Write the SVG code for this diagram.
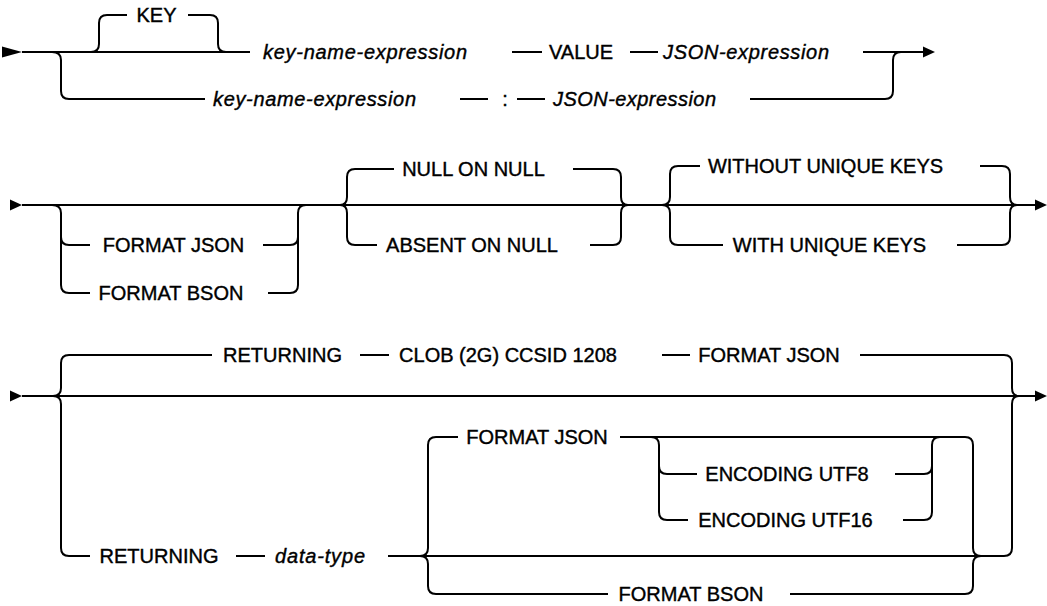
<svg xmlns="http://www.w3.org/2000/svg" width="1047" height="606" viewBox="0 0 1047 606">
<style>
.c{fill:none;stroke:#000;stroke-width:2}
.t{font-family:"Liberation Sans",Arial,sans-serif;font-size:20px;fill:#000;stroke:#000;stroke-width:0.4;text-anchor:middle}
.i{font-style:italic;text-anchor:start}
.a{fill:#000}
</style>
<rect width="1047" height="606" fill="#fff"/>
<g id="connectors">
<path class="c" d="M22 52 H250 M512 52 H542 M630 52 H658 M863 52 H923"/>
<path class="c" d="M52 52 Q61 52 61 60 V91 Q61 99 69 99 H205 M460 99 H488 M517 99 H545 M750 99 H885 Q893 99 893 91 V60 Q893 52 901 52"/>
<path class="c" d="M91 52 Q99 52 99 44 V23 Q99 15 107 15 H127 M188 15 H210 Q218 15 218 23 V44 Q218 52 226 52"/>
<polygon class="a" points="2,46.5 22,52 2,57.5"/>
<polygon class="a" points="923,46.5 935,52 923,57.5"/>
<path class="c" d="M22 205 H1035"/>
<path class="c" d="M52 205 Q61 205 61 213 V285 Q61 293 69 293 H90 M61 237 Q61 245 69 245 H90"/>
<path class="c" d="M263 245 H290 Q298 245 298 237 M268 293 H290 Q298 293 298 285 V213 Q298 205 306 205"/>
<path class="c" d="M340 205 Q347 205 347 197 V177 Q347 169 355 169 H394 M340 205 Q347 205 347 213 V237 Q347 245 355 245 H377"/>
<path class="c" d="M573 169 H613 Q621 169 621 177 V197 Q621 205 628 205 M590 245 H613 Q621 245 621 237 V213 Q621 205 628 205"/>
<path class="c" d="M662 205 Q670 205 670 197 V174 Q670 166 678 166 H700 M662 205 Q670 205 670 213 V237 Q670 245 678 245 H723"/>
<path class="c" d="M980 166 H1002 Q1010 166 1010 174 V197 Q1010 205 1017 205 M957 245 H1002 Q1010 245 1010 237 V213 Q1010 205 1017 205"/>
<polygon class="a" points="10,199.5 22,205 10,210.5"/>
<polygon class="a" points="1035,199.5 1047,205 1035,210.5"/>
<path class="c" d="M22 396 H1035"/>
<path class="c" d="M53 396 Q61 396 61 388 V363 Q61 355 69 355 H212 M360 355 H389 M662 355 H690 M860 355 H1004 Q1012 355 1012 363 V388 Q1012 396 1019 396"/>
<path class="c" d="M53 396 Q61 396 61 404 V548 Q61 556 69 556 H90 M236 556 H265 M388 556 H1004 Q1012 556 1012 548 V404 Q1012 396 1019 396"/>
<path class="c" d="M420 556 Q428 556 428 548 V445 Q428 437 436 437 H458 M420 556 Q428 556 428 564 V586 Q428 594 436 594 H608"/>
<path class="c" d="M620 437 H965 Q973 437 973 445 V548 Q973 556 981 556 M790 594 H965 Q973 594 973 586 V564 Q973 556 981 556"/>
<path class="c" d="M651 437 Q659 437 659 445 V512 Q659 520 667 520 H688 M659 466 Q659 474 667 474 H697"/>
<path class="c" d="M895 474 H924 Q932 474 932 466 V445 Q932 437 940 437 M903 520 H924 Q932 520 932 512 V466"/>
<polygon class="a" points="10,390.5 22,396 10,401.5"/>
<polygon class="a" points="1035,390.5 1047,396 1035,401.5"/>
</g>
<g id="n-key"><text class="t" x="156.5" y="22">KEY</text></g>
<g id="n-keyname1"><text class="t i" x="263" y="59" textLength="204" lengthAdjust="spacing">key-name-expression</text></g>
<g id="n-value"><text class="t" x="581" y="59">VALUE</text></g>
<g id="n-json1"><text class="t i" x="663" y="59" textLength="166" lengthAdjust="spacing">JSON-expression</text></g>
<g id="n-keyname2"><text class="t i" x="213" y="106" textLength="203" lengthAdjust="spacing">key-name-expression</text></g>
<g id="n-colon"><text class="t" x="505" y="106">:</text></g>
<g id="n-json2"><text class="t i" x="553" y="106" textLength="163" lengthAdjust="spacing">JSON-expression</text></g>
<g id="n-fjson1"><text class="t" x="173.5" y="252">FORMAT JSON</text></g>
<g id="n-fbson1"><text class="t" x="171" y="300">FORMAT BSON</text></g>
<g id="n-nullonnull"><text class="t" x="473.5" y="176">NULL ON NULL</text></g>
<g id="n-absentonnull"><text class="t" x="472" y="252">ABSENT ON NULL</text></g>
<g id="n-without"><text class="t" x="825.5" y="173">WITHOUT UNIQUE KEYS</text></g>
<g id="n-with"><text class="t" x="829.5" y="252">WITH UNIQUE KEYS</text></g>
<g id="n-returning1"><text class="t" x="282.5" y="362">RETURNING</text></g>
<g id="n-clob"><text class="t" x="508" y="362">CLOB (2G) CCSID 1208</text></g>
<g id="n-fjson2"><text class="t" x="769" y="362">FORMAT JSON</text></g>
<g id="n-returning2"><text class="t" x="159" y="563">RETURNING</text></g>
<g id="n-datatype"><text class="t i" x="275" y="563" textLength="90" lengthAdjust="spacing">data-type</text></g>
<g id="n-fjson3"><text class="t" x="537" y="444">FORMAT JSON</text></g>
<g id="n-utf8"><text class="t" x="787" y="481">ENCODING UTF8</text></g>
<g id="n-utf16"><text class="t" x="785.5" y="527">ENCODING UTF16</text></g>
<g id="n-fbson2"><text class="t" x="691" y="601">FORMAT BSON</text></g>
</svg>
